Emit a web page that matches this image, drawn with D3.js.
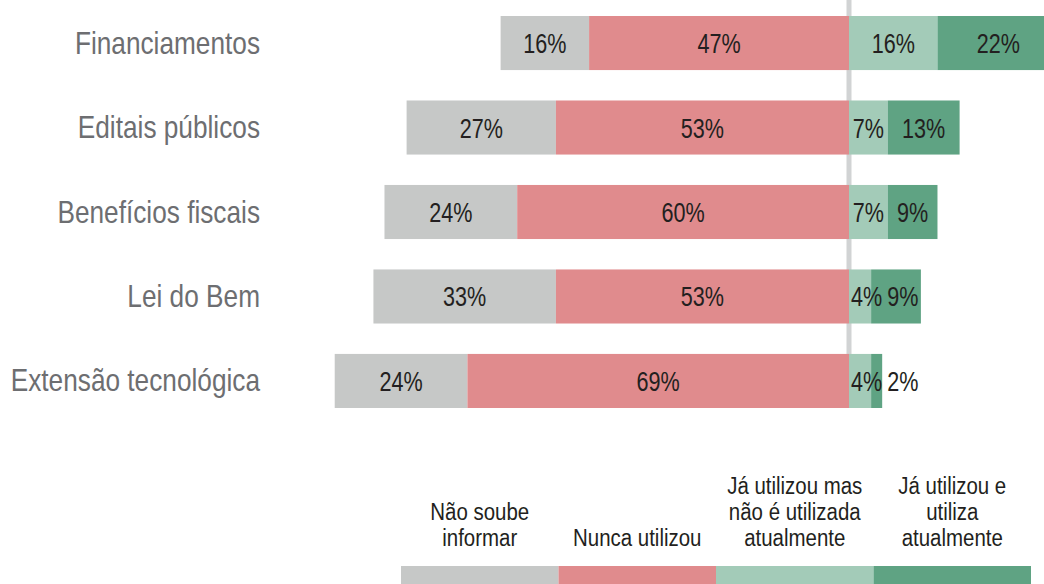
<!DOCTYPE html>
<html>
<head>
<meta charset="utf-8">
<script src="https://cdn.jsdelivr.net/npm/d3@7"></script>
<style>
  body { margin: 0; background: #fff; overflow: hidden; }
  svg text { font-family: "Liberation Sans", Arial, sans-serif; }
</style>
</head>
<body>
<div id="mainDiv"></div>
<script>
// categories (top to bottom)
const categories = ["Financiamentos", "Editais públicos", "Benefícios fiscais", "Lei do Bem", "Extensão tecnológica"];

// series values, in %
const naoSoube   = [16, 27, 24, 33, 24];
const nunca      = [47, 53, 60, 53, 69];
const jaMasNao   = [16, 7, 7, 4, 4];
const jaUtiliza  = [22, 13, 9, 9, 2];

// legend
const legendKeys = ["naoSoube", "nunca", "jaMasNao", "jaUtiliza"];
const legendLabels = [
  ["Não soube", "informar"],
  ["Nunca utilizou"],
  ["Já utilizou mas", "não  é utilizada", "atualmente"],
  ["Já utilizou e", "utiliza", "atualmente"]
];
const colors = ["#c6c8c7", "#e08b8d", "#a3cbb8", "#5fa383"];

let width = 1044,
    height = 584;

let svg = d3.select("#mainDiv").append("svg")
            .attr("width", width)
            .attr("height", height);

// no condensed font here, so squeeze a normal one horizontally
function narrowText(parent, tx, ty, size, sx, anchor, fill, str) {
  let g = parent.append("g")
    .attr("transform", "translate(" + tx + "," + ty + ") scale(" + sx + ",1)");
  let t = g.append("text")
    .attr("text-anchor", anchor)
    .attr("fill", fill)
    .style("font-size", size + "px")
    .text(str);
  return {g: g, t: t, w: t.node().getComputedTextLength() * sx};
}

// scales
let x = d3.scaleLinear().domain([-100, 40]).range([296, 1070.2]);
let y = d3.scaleBand().domain(categories).range([16, 408]).paddingInner(0.36).paddingOuter(0);
let color = d3.scaleOrdinal().domain(legendKeys).range(colors);

// rows -> segments (left side negative, right side positive)
let rows = categories.map(function(c, i) {
  return {
    name: c,
    segs: [
      {key: "naoSoube",  v: naoSoube[i],  x0: -(naoSoube[i] + nunca[i]), x1: -nunca[i]},
      {key: "nunca",     v: nunca[i],     x0: -nunca[i], x1: 0},
      {key: "jaMasNao",  v: jaMasNao[i],  x0: 0, x1: jaMasNao[i]},
      {key: "jaUtiliza", v: jaUtiliza[i], x0: jaMasNao[i], x1: jaMasNao[i] + jaUtiliza[i]}
    ]
  };
});

// center line
svg.append("line")
  .attr("x1", x(0)).attr("x2", x(0))
  .attr("y1", 0).attr("y2", y.range()[1])
  .attr("stroke", "#d1d3d4")
  .attr("stroke-width", 5);

let row = svg.selectAll(".row")
  .data(rows)
  .enter().append("g")
    .attr("class", "row")
    .attr("transform", function(d) { return "translate(0," + y(d.name) + ")"; });

row.selectAll("rect")
  .data(function(d) { return d.segs; })
  .enter().append("rect")
    .attr("x", function(d) { return x(d.x0); })
    .attr("width", function(d) { return x(d.x1) - x(d.x0); })
    .attr("height", y.bandwidth())
    .attr("fill", function(d) { return color(d.key); });

// value labels, pushed right when the segment is too narrow
let valY = y.bandwidth() / 2 + 10;
row.each(function(d) {
  let g = d3.select(this);
  let prevEnd = -Infinity;
  d.segs.forEach(function(s) {
    let lab = narrowText(g, 0, valY, 27, 0.8, "start", "#231f20", s.v + "%");
    let a = x(s.x0), b = x(s.x1);
    let start = (a + b) / 2 - lab.w / 2;
    if (s.x0 >= 0) {
      start = Math.max(start, a + 2, prevEnd + 5);
    }
    lab.g.attr("transform", "translate(" + start + "," + valY + ") scale(0.8,1)");
    prevEnd = start + lab.w;
  });
});

// category labels
row.each(function(d) {
  narrowText(d3.select(this), 260, y.bandwidth() / 2 + 10.5, 30.5, 0.86, "end", "#6d6e71", d.name);
});

// legend
let lx = d3.scaleBand().domain(legendKeys).range([401, 1031]);

let leg = svg.selectAll(".leg")
  .data(legendKeys)
  .enter().append("g")
    .attr("class", "leg")
    .attr("transform", function(d) { return "translate(" + lx(d) + ",0)"; });

leg.append("rect")
  .attr("y", 566)
  .attr("width", lx.bandwidth())
  .attr("height", 20)
  .attr("fill", function(d) { return color(d); });

leg.each(function(d, i) {
  let lines = legendLabels[i];
  let g = d3.select(this);
  lines.forEach(function(l, j) {
    narrowText(g, lx.bandwidth() / 2, 546 - (lines.length - 1 - j) * 26, 23.5, 0.87, "middle", "#231f20", l);
  });
});
</script>
</body>
</html>
